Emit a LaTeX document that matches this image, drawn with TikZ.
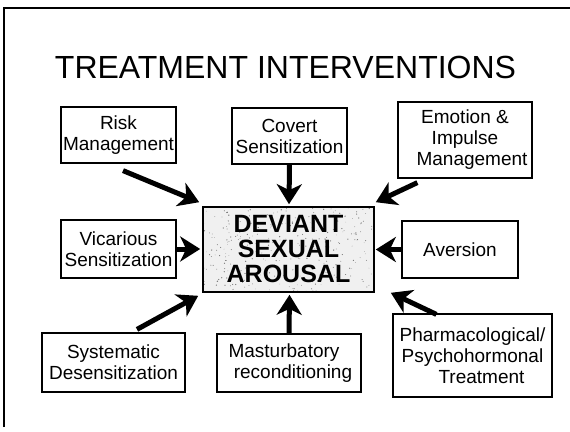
\documentclass[tikz,border=0pt]{standalone}
\usepackage{fontspec}
\setmainfont{Liberation Sans}
\usetikzlibrary{arrows.meta,calc}
\begin{document}
\begin{tikzpicture}[x=1pt,y=-1pt,
  box/.style={draw, line width=1.2pt, inner sep=0pt, align=center,
    font=\fontsize{19}{21}\selectfont},
  arr/.style={line width=5pt, -{Stealth[length=20pt,width=25pt,inset=6pt]}},
  frame/.style={line width=2.4pt},
  speck/.style={fill=black!55},
]
\useasboundingbox (0,0) rectangle (570,431);
\draw[frame] (4,427) -- (4,8) -- (570,8);

\node[font=\fontsize{32}{36}\selectfont, anchor=base] (title) at (285.5,78) {TREATMENT INTERVENTIONS};

\node[box, minimum width=115pt, minimum height=56pt] (risk) at (118.5,135) {Risk\\Management};
\node[box, minimum width=115pt, minimum height=56pt] (covert) at (289.5,136) {Covert\\Sensitization};
\node[box, minimum width=134pt, minimum height=76pt] (emotion) at (465,140) {Emotion \&\\Impulse\\\hspace*{14pt}Management};
\node[box, minimum width=115pt, minimum height=58pt] (vicarious) at (118.5,249) {Vicarious\\Sensitization};
\node[box, minimum width=116pt, minimum height=57pt] (aversion) at (460,249.5) {Aversion};
\node[box, minimum width=143pt, minimum height=59pt] (systematic) at (113.5,362.5) {Systematic\\Desensitization};
\node[box, minimum width=144pt, minimum height=58pt] (masturbatory) at (289,363) {Masturbatory\hspace*{10pt}\\\hspace*{8pt}reconditioning};
\node[box, minimum width=159pt, minimum height=83pt] (pharma) at (472.5,355.5) {Pharmacological/\\Psychohormonal\\\hspace*{18pt}Treatment};

\node[draw, line width=1.6pt, fill=black!6, minimum width=171pt, minimum height=85pt,
  inner sep=0pt, align=center, font=\fontsize{25}{25}\selectfont\bfseries,
  path picture={
    \pgfmathsetseed{7}
    \foreach \i in {1,...,320}{
      \pgfmathsetmacro\rx{rnd*171}
      \pgfmathsetmacro\ry{rnd*85}
      \pgfmathsetmacro\rr{0.25+0.45*rnd}
      \fill[speck] ($(path picture bounding box.north west)+(\rx,\ry)$) circle (\rr pt);
    }
  }] (center) at (288.5,249.5) {DEVIANT\\SEXUAL\\AROUSAL};

\draw[arr] ($(risk.south)+(4.5,7)$) -- ($(center.north west)+(-3,-4)$);
\draw[arr] (covert.south) -- ($(center.north)+(0.5,-2)$);
\draw[arr] ($(emotion.south west)+(20,4)$) -- ($(center.north east)+(1,-4)$);
\draw[arr, shorten >=2pt] (vicarious.east) -- (vicarious.east -| center.west);
\draw[arr, shorten >=1pt] (aversion.west) -- (aversion.west -| center.east);
\draw[arr] ($(systematic.north)+(23.5,-3)$) -- ($(center.south west)+(-4,3)$);
\draw[arr] (masturbatory.north) -- ($(center.south)+(1,2)$);
\draw[arr] ($(pharma.north west)+(44,1)$) -- ($(center.south east)+(16,0)$);
\end{tikzpicture}
\end{document}
